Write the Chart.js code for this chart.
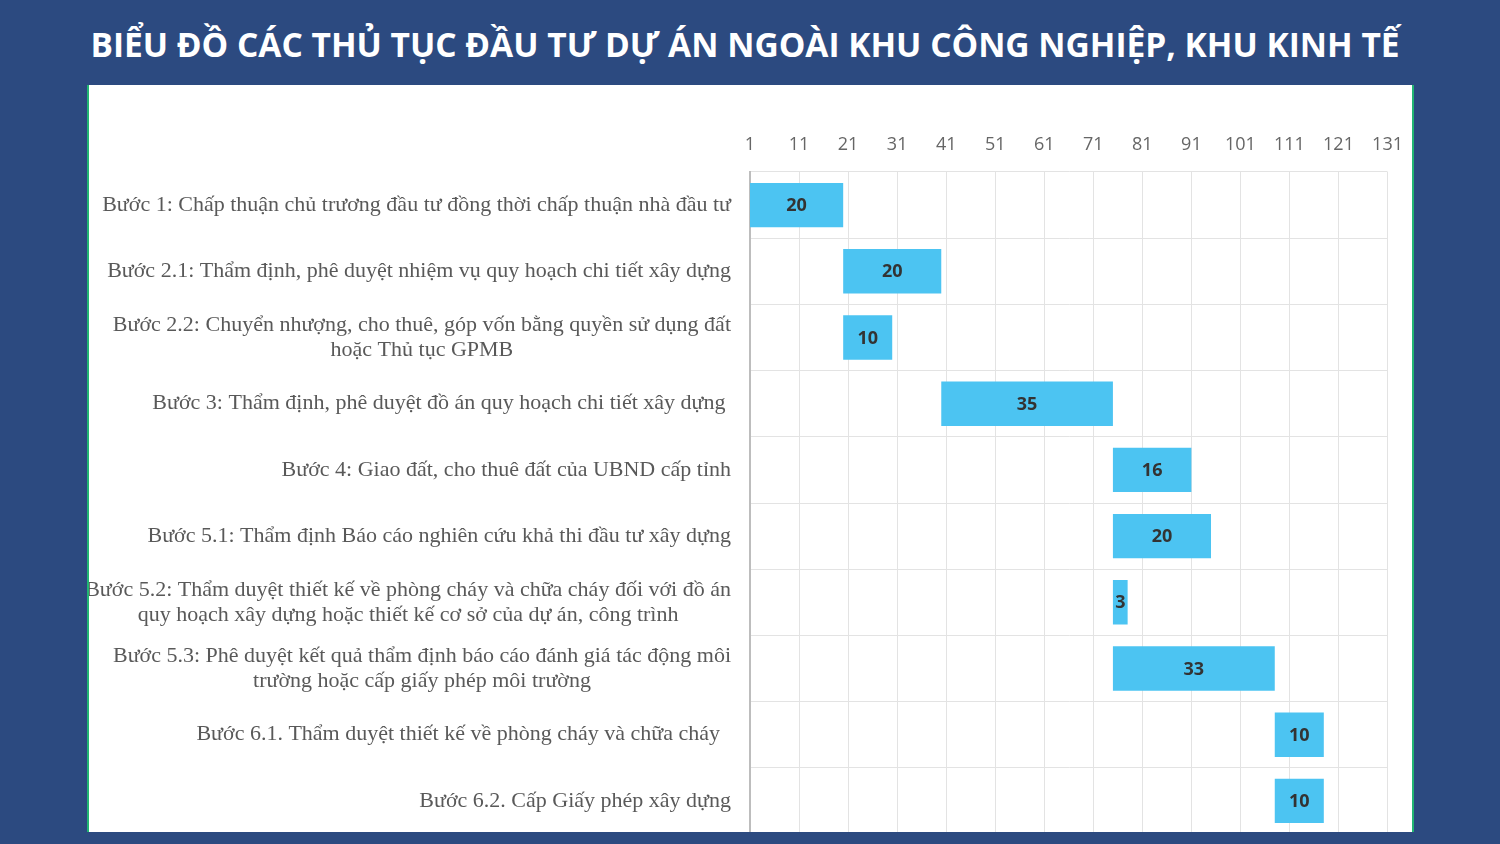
<!DOCTYPE html>
<html>
<head>
<meta charset="utf-8">
<script src="https://cdn.jsdelivr.net/npm/chart.js@4/dist/chart.umd.min.js"></script>
<style>
  html, body { margin: 0; padding: 0; }
  body { width: 1500px; height: 844px; background: #2c4a80; position: relative; overflow: hidden; }
  #title {
    position: absolute; left: 0; top: 21px; width: 1490px; text-align: center;
    color: #fff; font-family: "Open Sans", sans-serif; font-weight: 700; font-size: 33.5px;
  }
  #panel {
    position: absolute; left: 87px; top: 85px; width: 1323px; height: 747px;
    background: #fff; border-left: 2px solid #22b573; border-right: 2px solid #22b573;
    overflow: hidden;
  }
  #wrap { position: absolute; left: 0; top: 0; width: 1330px; height: 749px; }
</style>
</head>
<body>
<div id="title">BIỂU ĐỒ CÁC THỦ TỤC ĐẦU TƯ DỰ ÁN NGOÀI KHU CÔNG NGHIỆP, KHU KINH TẾ</div>
<div id="panel"><div id="wrap"><canvas id="chart"></canvas></div></div>
<script>
// Steps (each entry = lines of the label)
const categories = [
  ['Bước 1: Chấp thuận chủ trương đầu tư đồng thời chấp thuận nhà đầu tư'],
  ['Bước 2.1: Thẩm định, phê duyệt nhiệm vụ quy hoạch chi tiết xây dựng'],
  ['Bước 2.2: Chuyển nhượng, cho thuê, góp vốn bằng quyền sử dụng đất', 'hoặc Thủ tục GPMB'],
  ['Bước 3: Thẩm định, phê duyệt đồ án quy hoạch chi tiết xây dựng '],
  ['Bước 4: Giao đất, cho thuê đất của UBND cấp tỉnh'],
  ['Bước 5.1: Thẩm định Báo cáo nghiên cứu khả thi đầu tư xây dựng'],
  ['Bước 5.2: Thẩm duyệt thiết kế về phòng cháy và chữa cháy đối với đồ án', 'quy hoạch xây dựng hoặc thiết kế cơ sở của dự án, công trình'],
  ['Bước 5.3: Phê duyệt kết quả thẩm định báo cáo đánh giá tác động môi', 'trường hoặc cấp giấy phép môi trường'],
  ['Bước 6.1. Thẩm duyệt thiết kế về phòng cháy và chữa cháy  '],
  ['Bước 6.2. Cấp Giấy phép xây dựng']
];

// Start day and duration (days) of each step
const startDays = [0, 20, 20, 40, 75, 75, 75, 75, 108, 108];
const durations = [20, 20, 10, 35, 16, 20, 3, 33, 10, 10];

// Top axis ticks
const tickValues = [1, 11, 21, 31, 41, 51, 61, 71, 81, 91, 101, 111, 121, 131];

// Draw step labels (multi-line centered, block right-aligned) and bar values
const labelPlugin = {
  id: 'labelPlugin',
  afterDraw(chart) {
    const ctx = chart.ctx;
    const yScale = chart.scales.y;
    const area = chart.chartArea;
    ctx.save();
    ctx.font = '22px "Liberation Serif", "Times New Roman", serif';
    ctx.fillStyle = '#595959';
    ctx.textAlign = 'center';
    ctx.textBaseline = 'middle';
    const right = area.left - 19;
    const lineH = 25;
    categories.forEach((lines, i) => {
      const yc = yScale.getPixelForValue(i);
      const maxW = Math.max(...lines.map(l => ctx.measureText(l).width));
      const cx = right - maxW / 2;
      lines.forEach((l, j) => {
        ctx.fillText(l, cx, yc + (j - (lines.length - 1) / 2) * lineH);
      });
    });

    // bar values
    ctx.font = 'bold 18px "Open Sans", sans-serif';
    ctx.fillStyle = '#333';
    const meta = chart.getDatasetMeta(0);
    meta.data.forEach((bar, i) => {
      const p = bar.getProps(['x', 'base', 'y'], true);
      const l = Math.max(Math.min(p.x, p.base), area.left);
      const r = Math.min(Math.max(p.x, p.base), area.right);
      ctx.fillText(String(durations[i]), (l + r) / 2, p.y + 1);
    });
    ctx.restore();
  }
};

new Chart(document.getElementById('chart'), {
  type: 'bar',
  data: {
    labels: categories,
    datasets: [{
      data: startDays.map((s, i) => [s, s + durations[i]]),
      backgroundColor: '#4cc4f2',
      borderWidth: 0,
      barPercentage: 0.67,
      categoryPercentage: 1
    }]
  },
  options: {
    indexAxis: 'y',
    responsive: true,
    maintainAspectRatio: false,
    animation: false,
    layout: { padding: { top: 0, right: 16, bottom: 0, left: 0 } },
    plugins: { legend: { display: false }, tooltip: { enabled: false } },
    scales: {
      x: {
        type: 'linear',
        position: 'top',
        min: 1,
        max: 131,
        afterBuildTicks: scale => { scale.ticks = tickValues.map(v => ({ value: v })); },
        afterFit: scale => { scale.height = 87; },
        grid: { color: '#e3e3e3', drawTicks: false },
        border: { display: false },
        ticks: {
          color: '#666',
          padding: 16,
          font: { family: '"Open Sans", sans-serif', size: 18 }
        }
      },
      y: {
        afterFit: scale => { scale.width = 661; },
        grid: { color: '#e3e3e3', drawTicks: false },
        border: { color: '#bdbdbd', width: 2 },
        ticks: { display: false }
      }
    }
  },
  plugins: [labelPlugin]
});
</script>
</body>
</html>
